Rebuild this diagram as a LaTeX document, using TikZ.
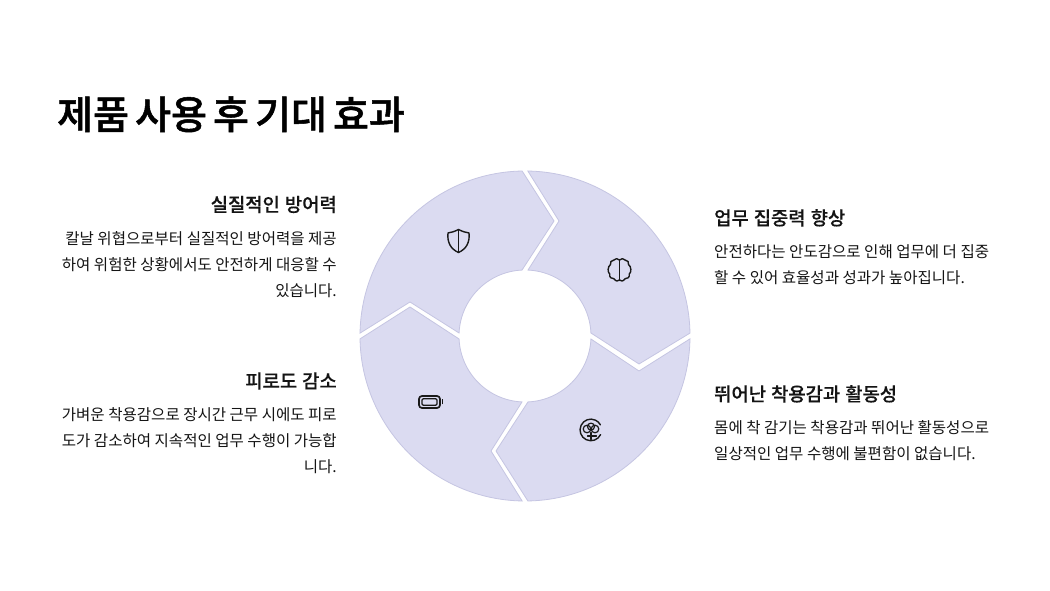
\documentclass[tikz,border=0pt]{standalone}
\usepackage{fontspec}
\setmainfont{Noto Sans CJK KR}
\newfontfamily\krmed[FakeBold=0.25]{Noto Sans CJK KR Medium}
\newfontfamily\krtitle[FakeBold=1.3]{Noto Sans CJK KR Medium}
\newfontfamily\krreg{Noto Sans CJK KR}
\newcommand\tightsp{\spaceskip=5pt\relax}
\newcommand\titlesp{\spaceskip=6.2pt\relax}
\definecolor{segfill}{HTML}{DBDBF1}
\definecolor{segline}{HTML}{C5C5E2}
\definecolor{ink}{HTML}{141414}
\tikzset{
  seg/.style={fill=segfill,draw=segline,line width=0.8pt,line join=miter},
  icon/.style={draw=black!90,line width=1.4pt,line join=round,line cap=round},
  head/.style={inner sep=0pt,text=ink,font=\krmed\fontsize{18.8}{24}\selectfont\tightsp},
  bodyR/.style={inner sep=0pt,text=ink,align=right,font=\krreg\fontsize{15.55}{26}\selectfont},
  bodyL/.style={inner sep=0pt,text=ink,align=left,font=\krreg\fontsize{15.55}{26}\selectfont},
}
\begin{document}
\begin{tikzpicture}[x=1pt,y=1pt]
\useasboundingbox (0,0) rectangle (1050,591);
\fill[white] (0,0) rectangle (1050,591);
\coordinate (C) at (525,255);
% segments
\draw[seg] ([shift={(179:165)}]C) arc[start angle=179,end angle=91,radius=165] -- (554,370) -- ([shift={(92.6:66)}]C) arc[start angle=92.6,end angle=177.4,radius=66] -- (410,289) -- cycle;
\draw[seg] ([shift={(89:165)}]C) arc[start angle=89,end angle=1,radius=165] -- (639,227) -- ([shift={(2.6:66)}]C) arc[start angle=2.6,end angle=87.4,radius=66] -- (559,370) -- cycle;
\draw[seg] ([shift={(-1:165)}]C) arc[start angle=-1,end angle=-89,radius=165] -- (496,140) -- ([shift={(-87.4:66)}]C) arc[start angle=-87.4,end angle=-2.6,radius=66] -- (639,220) -- cycle;
\draw[seg] ([shift={(181:165)}]C) arc[start angle=181,end angle=269,radius=165] -- (491,140) -- ([shift={(267.4:66)}]C) arc[start angle=267.4,end angle=182.6,radius=66] -- (410,284) -- cycle;
% shield
\begin{scope}[shift={(458.5,350)}]
\draw[icon] (0,11.5) .. controls (4,9.5) and (7,8.5) .. (10.5,8) .. controls (11.5,-1) and (8,-8) .. (0,-11.5) .. controls (-8,-8) and (-11.5,-1) .. (-10.5,8) .. controls (-7,8.5) and (-4,9.5) .. (0,11.5) -- cycle;
\draw[icon] (0,11.5) -- (0,-11.5);
\end{scope}
% brain
\begin{scope}[shift={(619.5,321)}]
\draw[icon] (0,-10.5) -- (0,10);
\draw[icon] (0,10) .. controls (-1.5,11.8) and (-4.5,11.8) .. (-5.5,10) .. controls (-8.5,10) and (-9.5,7.5) .. (-9,5.5) .. controls (-12,3.5) and (-12,-2.5) .. (-9.8,-4) .. controls (-10.5,-7.5) and (-7.5,-9) .. (-5.5,-8.8) .. controls (-4,-11.5) and (-1,-11.5) .. (0,-10);
\draw[icon] (0,10) .. controls (1.5,11.8) and (4.5,11.8) .. (5.5,10) .. controls (8.5,10) and (9.5,7.5) .. (9,5.5) .. controls (12,3.5) and (12,-2.5) .. (9.8,-4) .. controls (10.5,-7.5) and (7.5,-9) .. (5.5,-8.8) .. controls (4,-11.5) and (1,-11.5) .. (0,-10);
\end{scope}
% battery
\begin{scope}[shift={(429.5,189)}]
\draw[icon,rounded corners=3pt,line width=1.7pt] (-10.5,-6) rectangle (10.5,6);
\draw[icon,rounded corners=1.2pt,line width=1.3pt] (-7.5,-3.2) rectangle (7.5,3.2);
\draw[icon,line width=1.4pt,line cap=butt] (13,-2.5) -- (13,2.5);
\end{scope}
% tree in circle
\begin{scope}[shift={(591,161)}]
\draw[icon] (9.6,-4.6) arc[start angle=-25.6,end angle=-332,radius=10.8];
\draw[icon,line width=1.2pt] (-4,1) circle[radius=3.8];
\draw[icon,line width=1.2pt] (4,1) circle[radius=3.8];
\draw[icon,line width=1.2pt] (0,3.4) circle[radius=3.5];
\draw[icon,line width=1.2pt] (0,-2.5) -- (0,-9.5);
\draw[icon,line width=1.2pt] (-3.5,-6) -- (5.5,-6);
\end{scope}
% title
\node[anchor=base west,inner sep=0pt,text=black,font=\krtitle\fontsize{39}{44}\selectfont\titlesp] (title) at (57,462) {제품 사용 후 기대 효과};
% left
\node[head,anchor=base east] (h1) at (337,379.5) {실질적인 방어력};
\node[bodyR,anchor=north east] (b1) at (337,360) {칼날 위협으로부터 실질적인 방어력을 제공\\하여 위험한 상황에서도 안전하게 대응할 수\\있습니다.};
\node[head,anchor=base east] (h4) at (337,203) {피로도 감소};
\node[bodyR,anchor=north east] (b4) at (337,183.5) {가벼운 착용감으로 장시간 근무 시에도 피로\\도가 감소하여 지속적인 업무 수행이 가능합\\니다.};
% right
\node[head,anchor=base west] (h2) at (714,366) {업무 집중력 향상};
\node[bodyL,anchor=north west] (b2) at (714,347) {안전하다는 안도감으로 인해 업무에 더 집중\\할 수 있어 효율성과 성과가 높아집니다.};
\node[head,anchor=base west] (h3) at (714,190) {뛰어난 착용감과 활동성};
\node[bodyL,anchor=north west] (b3) at (714,171) {몸에 착 감기는 착용감과 뛰어난 활동성으로\\일상적인 업무 수행에 불편함이 없습니다.};
\end{tikzpicture}
\end{document}
